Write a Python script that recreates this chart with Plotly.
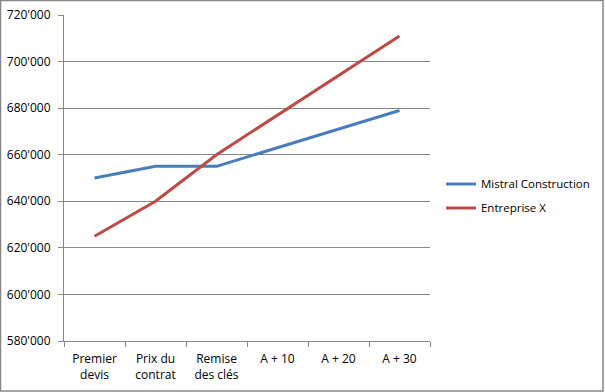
import plotly.graph_objects as go

categories = ["Premier<br>devis", "Prix du<br>contrat", "Remise<br>des clés", "A + 10", "A + 20", "A + 30"]
mistral = [650000, 655000, 655000, 663000, 671000, 679000]
entreprise_x = [625000, 640000, 660000, 677000, 694000, 711000]
y_ticks = [580000, 600000, 620000, 640000, 660000, 680000, 700000, 720000]

FONT = "Open Sans"
GRID = "#868686"

fig = go.Figure()
fig.add_trace(go.Scatter(x=categories, y=mistral, mode="lines", name="Mistral Construction",
                         line=dict(color="#4A7EBB", width=3), legendgroup="a"))
fig.add_trace(go.Scatter(x=categories, y=entreprise_x, mode="lines", name="Entreprise X",
                         line=dict(color="#BE4B48", width=3), legendgroup="b"))

fig.update_layout(
    width=605, height=392,
    margin=dict(l=64, r=175, t=15, b=51, autoexpand=False),
    paper_bgcolor="white", plot_bgcolor="white",
    separators=".'",
    font=dict(family=FONT, size=12, color="#000000"),
    showlegend=True,
    legend=dict(x=1.03, y=0.445, xanchor="left", yanchor="middle",
                font=dict(family=FONT, size=11.5), tracegroupgap=5,
                bgcolor="rgba(0,0,0,0)", itemwidth=30),
    xaxis=dict(type="category", showgrid=False, showline=True, linecolor=GRID, linewidth=1,
               ticks="outside", tickson="boundaries", ticklen=5, tickcolor=GRID,
               range=[-0.5, 5.5], tickfont=dict(family=FONT, size=12),
               automargin=False, ticklabelstandoff=7),
    yaxis=dict(range=[580000, 720000], tickvals=y_ticks, tickformat=",d",
               showgrid=True, gridcolor=GRID, gridwidth=1,
               showline=True, linecolor=GRID, linewidth=1,
               ticks="outside", ticklen=5, tickcolor=GRID, zeroline=False,
               tickfont=dict(family=FONT, size=12), automargin=False,
               ticklabelstandoff=5),
    shapes=[dict(type="rect", xref="paper", yref="paper",
                 x0=-63.5 / 366, x1=539.0 / 366, y0=-50.0 / 326, y1=1 + 14.5 / 326,
                 line=dict(color="#868686", width=1.5), fillcolor="rgba(0,0,0,0)", layer="below")],
)

fig.write_html("out.html", config={"displayModeBar": False},
               post_script="document.body.style.margin='0';document.body.style.overflow='hidden';")
